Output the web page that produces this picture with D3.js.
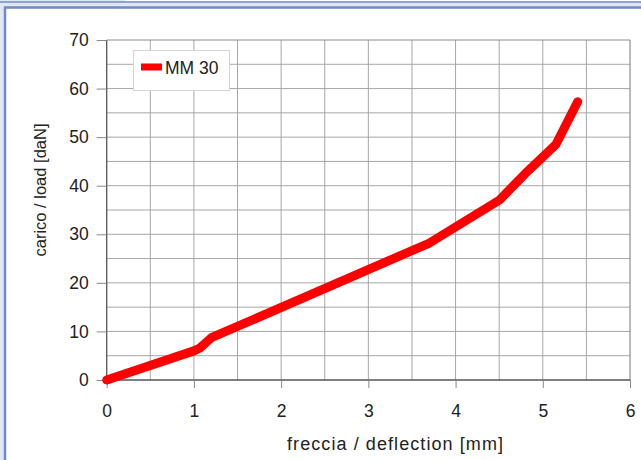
<!DOCTYPE html>
<html>
<head>
<meta charset="utf-8">
<script src="https://cdn.jsdelivr.net/npm/d3@7"></script>
<style>
  html, body { margin: 0; padding: 0; background: #ffffff; }
  svg { display: block; }
  text { font-family: "Liberation Sans", Arial, Helvetica, sans-serif; fill: #222; }
</style>
</head>
<body>
<script>
// Load–deflection curve for spring MM 30
const seriesName = "MM 30";
const deflection = [0, 1.0, 1.07, 1.2, 3.7, 4.5, 4.8, 5.15, 5.4];     // mm
const load       = [0, 6.0, 6.6, 8.7, 28.2, 37.0, 42.5, 48.5, 57.3]; // daN
const xTicks = [0, 1, 2, 3, 4, 5, 6];
const yTicks = [0, 10, 20, 30, 40, 50, 60, 70];
const xTitle = "freccia / deflection [mm]";
const yTitle = "carico / load [daN]";

const W = 641, H = 460;
const plot = { left: 106.7, right: 630, top: 40, bottom: 380 };

const svg = d3.select("body").append("svg").attr("width", W).attr("height", H);

// page frame
svg.append("rect").attr("x", 0).attr("y", 0).attr("width", W).attr("height", H).attr("fill", "#e2e6f2");
svg.append("rect").attr("x", 125).attr("y", 0).attr("width", W - 125).attr("height", 1.5).attr("fill", "#ffffff");
svg.append("line").attr("x1", 0).attr("x2", W).attr("y1", 2).attr("y2", 2)
  .attr("stroke", "#6f8bc6").attr("stroke-width", 1.5);
svg.append("rect").attr("x", 5).attr("y", 7.5).attr("width", W + 10).attr("height", H + 10)
  .attr("fill", "#ffffff").attr("stroke", "#6f8bc6").attr("stroke-width", 2.5);

const x = d3.scaleLinear().domain([0, 6]).range([plot.left, plot.right]);
const y = d3.scaleLinear().domain([0, 70]).range([plot.bottom, plot.top]);

// grid every half unit on x and every 5 daN on y
const g = svg.append("g");
g.selectAll("line.vx").data(d3.range(0.5, 6, 0.5)).join("line")
  .attr("x1", d => x(d)).attr("x2", d => x(d))
  .attr("y1", plot.top).attr("y2", plot.bottom)
  .attr("stroke", "#a6a6a6").attr("stroke-width", 1);
g.selectAll("line.hy").data(d3.range(5, 70, 5)).join("line")
  .attr("x1", plot.left).attr("x2", plot.right)
  .attr("y1", d => y(d)).attr("y2", d => y(d))
  .attr("stroke", "#a6a6a6").attr("stroke-width", 1);

// frame top / right
g.append("line").attr("x1", plot.left).attr("x2", plot.right).attr("y1", plot.top).attr("y2", plot.top)
  .attr("stroke", "#8c8c8c").attr("stroke-width", 1.2);
g.append("line").attr("x1", plot.right).attr("x2", plot.right).attr("y1", plot.top).attr("y2", plot.bottom)
  .attr("stroke", "#8c8c8c").attr("stroke-width", 1.2);

// axes
const xAxis = d3.axisBottom(x).tickValues(xTicks).tickFormat(d3.format("d")).tickSize(8).tickPadding(17);
const yAxis = d3.axisLeft(y).tickValues(yTicks).tickFormat(d3.format("d")).tickSize(10).tickPadding(8);

const gx = svg.append("g").attr("transform", `translate(0,${plot.bottom})`).call(xAxis);
const gy = svg.append("g").attr("transform", `translate(${plot.left},0)`).call(yAxis);
[gx, gy].forEach(a => {
  a.select(".domain").attr("stroke", "#555").attr("stroke-width", 1.3);
  a.selectAll(".tick line").attr("stroke", "#888").attr("stroke-width", 1);
  a.selectAll(".tick text").style("font-size", "17.5px").attr("fill", "#222")
    .style("font-family", "'Liberation Sans', Arial, sans-serif");
});
gy.select(".domain").attr("d", `M0,${plot.bottom}V${plot.top}`);
gx.select(".domain").attr("d", `M${plot.left},0H${plot.right}`);

// axis titles
svg.append("text").attr("x", 287).attr("y", 450)
  .attr("textLength", 216).attr("lengthAdjust", "spacing")
  .style("font-size", "18px").text(xTitle);
svg.append("text").attr("transform", "translate(46,190) rotate(-90)").attr("text-anchor", "middle")
  .style("font-size", "16.5px").text(yTitle);

// curve
const pts = deflection.map((d, i) => [d, load[i]]);
const line = d3.line().x(d => x(d[0])).y(d => y(d[1])).curve(d3.curveLinear);
svg.append("path").datum(pts).attr("d", line)
  .attr("fill", "none").attr("stroke", "#ff0000").attr("stroke-width", 9)
  .attr("stroke-linejoin", "round").attr("stroke-linecap", "round");

// legend
const lg = svg.append("g");
lg.append("rect").attr("x", 133.5).attr("y", 50.5).attr("width", 96).attr("height", 40)
  .attr("fill", "#ffffff").attr("stroke", "#d4d4d4").attr("stroke-width", 1);
lg.append("line").attr("x1", 141).attr("x2", 162).attr("y1", 67).attr("y2", 67)
  .attr("stroke", "#ff0000").attr("stroke-width", 7);
lg.append("text").attr("x", 165).attr("y", 74).style("font-size", "17.5px").text(seriesName);
</script>
</body>
</html>
